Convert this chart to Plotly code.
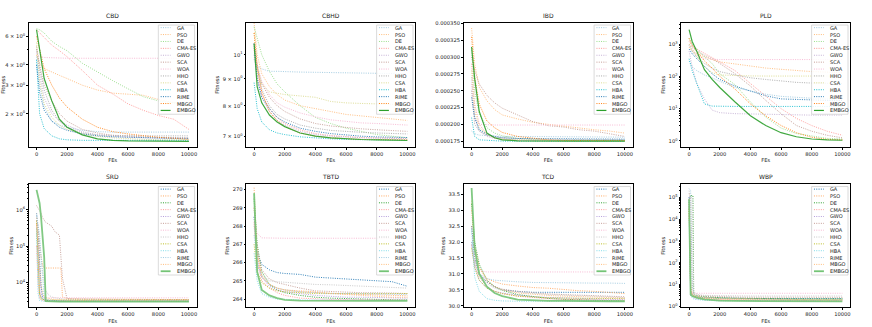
import plotly.graph_objects as go

ALGOS = ["GA", "PSO", "DE", "CMA-ES", "GWO", "SCA", "WOA", "HHO", "CSA", "HBA", "RIME", "MBGO", "EMBGO"]
PROBLEMS = ["CBD", "CBHD", "IBD", "PLD", "SRD", "TBTD", "TCD", "WBP"]

FES = [0, 200, 500, 1000, 1500, 2000, 3000, 4000, 5000, 6000, 7000, 8000, 9000, 10000]
FES_SRD = [0, 100, 200, 300, 400, 500, 600, 800, 1000, 1200, 1500, 1600, 1700, 2000, 3000, 5000, 10000]
FES_WBP = [0, 100, 200, 250, 300, 400, 600, 1000, 2000, 3000, 4000, 6000, 8000, 10000]

CBD = {
    "GA": [4.5, 3.0, 2.2, 1.8, 1.7, 1.65, 1.58, 1.55, 1.54, 1.54, 1.54, 1.54, 1.54, 1.54],
    "PSO": [4.6, 4.1, 3.8, 3.6, 3.45, 3.3, 3.0, 2.8, 2.68, 2.64, 2.6, 2.45, 2.35, 2.25],
    "DE": [6.7, 6.6, 6.3, 5.6, 5.2, 4.9, 4.1, 3.6, 3.2, 2.85, 2.55, 2.4, 2.33, 2.3],
    "CMA-ES": [6.6, 6.3, 5.9, 5.3, 4.9, 4.5, 3.7, 3.0, 2.65, 2.3, 2.1, 1.95, 1.85, 1.6],
    "GWO": [5.0, 3.5, 2.5, 2.0, 1.8, 1.7, 1.55, 1.48, 1.45, 1.43, 1.42, 1.41, 1.41, 1.40],
    "SCA": [5.2, 4.0, 3.0, 2.4, 2.0, 1.8, 1.6, 1.52, 1.47, 1.45, 1.44, 1.43, 1.43, 1.42],
    "WOA": [4.7, 4.5, 4.45, 4.42, 4.41, 4.4, 4.4, 4.4, 4.4, 4.4, 4.4, 4.4, 4.4, 4.4],
    "HHO": [5.0, 3.8, 2.8, 2.1, 1.8, 1.65, 1.52, 1.48, 1.47, 1.46, 1.46, 1.46, 1.46, 1.46],
    "CSA": [5.5, 3.2, 2.3, 1.9, 1.7, 1.6, 1.5, 1.45, 1.42, 1.40, 1.39, 1.38, 1.38, 1.38],
    "HBA": [4.3, 2.0, 1.62, 1.46, 1.40, 1.38, 1.37, 1.37, 1.37, 1.37, 1.37, 1.37, 1.37, 1.37],
    "RIME": [4.0, 2.7, 2.1, 1.8, 1.65, 1.58, 1.5, 1.46, 1.44, 1.43, 1.42, 1.42, 1.41, 1.41],
    "MBGO": [6.0, 5.0, 3.8, 3.0, 2.5, 2.2, 1.85, 1.65, 1.55, 1.5, 1.46, 1.43, 1.41, 1.39],
    "EMBGO": [6.6, 5.0, 3.3, 2.4, 1.85, 1.65, 1.48, 1.40, 1.37, 1.36, 1.355, 1.35, 1.35, 1.35],
}

CBHD = {
    "GA": [9.8, 9.5, 9.4, 9.3, 9.3, 9.28, 9.27, 9.26, 9.25, 9.24, 9.23, 9.22, 9.21, 9.2],
    "PSO": [11.5, 10.0, 9.2, 8.7, 8.4, 8.2, 8.0, 7.9, 7.8, 7.7, 7.65, 7.6, 7.55, 7.5],
    "DE": [11.3, 10.8, 10.0, 9.3, 8.8, 8.5, 8.0, 7.6, 7.4, 7.25, 7.15, 7.05, 7.0, 6.95],
    "CMA-ES": [10.2, 9.2, 8.4, 7.9, 7.6, 7.4, 7.2, 7.08, 7.02, 6.98, 6.96, 6.95, 6.94, 6.93],
    "GWO": [10.0, 9.0, 8.3, 7.8, 7.5, 7.35, 7.15, 7.05, 7.0, 6.97, 6.95, 6.94, 6.93, 6.93],
    "SCA": [10.5, 9.5, 8.8, 8.3, 8.0, 7.8, 7.55, 7.4, 7.32, 7.27, 7.23, 7.2, 7.18, 7.15],
    "WOA": [10.5, 9.6, 8.9, 8.4, 8.1, 7.95, 7.75, 7.62, 7.52, 7.46, 7.42, 7.4, 7.38, 7.35],
    "HHO": [10.3, 9.4, 8.6, 8.0, 7.7, 7.55, 7.35, 7.25, 7.18, 7.14, 7.12, 7.1, 7.08, 7.07],
    "CSA": [11.0, 9.5, 8.8, 8.5, 8.45, 8.4, 8.35, 8.3, 8.15, 8.1, 8.08, 8.06, 8.05, 8.05],
    "HBA": [8.85, 7.9, 7.45, 7.2, 7.1, 7.05, 6.98, 6.94, 6.92, 6.9, 6.89, 6.88, 6.88, 6.88],
    "RIME": [10.5, 9.0, 8.3, 7.9, 7.6, 7.45, 7.25, 7.15, 7.08, 7.03, 7.0, 6.98, 6.97, 6.96],
    "MBGO": [11.0, 9.5, 8.5, 7.8, 7.5, 7.3, 7.1, 7.0, 6.95, 6.92, 6.9, 6.9, 6.89, 6.89],
    "EMBGO": [10.5, 8.7, 8.1, 7.68, 7.45, 7.3, 7.1, 7.0, 6.95, 6.92, 6.9, 6.89, 6.88, 6.87],
}

IBD = {
    "GA": [1.90e-4, 1.86e-4, 1.84e-4, 1.83e-4, 1.82e-4, 1.82e-4, 1.82e-4, 1.82e-4, 1.815e-4, 1.815e-4, 1.81e-4, 1.81e-4, 1.81e-4, 1.81e-4],
    "PSO": [3.43e-4, 2.90e-4, 2.55e-4, 2.35e-4, 2.22e-4, 2.14e-4, 2.08e-4, 2.03e-4, 2.00e-4, 1.97e-4, 1.95e-4, 1.92e-4, 1.90e-4, 1.87e-4],
    "DE": [3.10e-4, 2.50e-4, 2.15e-4, 1.95e-4, 1.87e-4, 1.83e-4, 1.79e-4, 1.77e-4, 1.76e-4, 1.76e-4, 1.755e-4, 1.755e-4, 1.755e-4, 1.755e-4],
    "CMA-ES": [2.90e-4, 2.30e-4, 2.00e-4, 1.85e-4, 1.80e-4, 1.78e-4, 1.76e-4, 1.755e-4, 1.753e-4, 1.752e-4, 1.752e-4, 1.752e-4, 1.752e-4, 1.752e-4],
    "GWO": [2.70e-4, 2.10e-4, 1.90e-4, 1.82e-4, 1.79e-4, 1.78e-4, 1.77e-4, 1.765e-4, 1.76e-4, 1.76e-4, 1.76e-4, 1.76e-4, 1.76e-4, 1.76e-4],
    "SCA": [3.00e-4, 2.80e-4, 2.60e-4, 2.43e-4, 2.32e-4, 2.24e-4, 2.14e-4, 2.04e-4, 1.98e-4, 1.96e-4, 1.92e-4, 1.90e-4, 1.86e-4, 1.82e-4],
    "WOA": [2.60e-4, 2.10e-4, 2.00e-4, 1.99e-4, 1.99e-4, 1.99e-4, 1.99e-4, 1.99e-4, 1.99e-4, 1.99e-4, 1.99e-4, 1.99e-4, 1.99e-4, 1.99e-4],
    "HHO": [2.50e-4, 2.00e-4, 1.90e-4, 1.84e-4, 1.81e-4, 1.80e-4, 1.79e-4, 1.78e-4, 1.78e-4, 1.77e-4, 1.77e-4, 1.77e-4, 1.77e-4, 1.77e-4],
    "CSA": [2.80e-4, 2.20e-4, 1.95e-4, 1.85e-4, 1.80e-4, 1.78e-4, 1.77e-4, 1.76e-4, 1.76e-4, 1.76e-4, 1.76e-4, 1.76e-4, 1.76e-4, 1.76e-4],
    "HBA": [2.10e-4, 1.82e-4, 1.77e-4, 1.76e-4, 1.752e-4, 1.751e-4, 1.751e-4, 1.751e-4, 1.751e-4, 1.751e-4, 1.751e-4, 1.751e-4, 1.751e-4, 1.751e-4],
    "RIME": [2.40e-4, 2.10e-4, 1.92e-4, 1.85e-4, 1.82e-4, 1.80e-4, 1.79e-4, 1.79e-4, 1.78e-4, 1.78e-4, 1.78e-4, 1.78e-4, 1.78e-4, 1.78e-4],
    "MBGO": [3.30e-4, 2.70e-4, 2.30e-4, 2.05e-4, 1.95e-4, 1.88e-4, 1.82e-4, 1.79e-4, 1.77e-4, 1.76e-4, 1.76e-4, 1.76e-4, 1.76e-4, 1.76e-4],
    "EMBGO": [3.15e-4, 2.68e-4, 2.19e-4, 1.87e-4, 1.80e-4, 1.77e-4, 1.755e-4, 1.751e-4, 1.75e-4, 1.75e-4, 1.75e-4, 1.75e-4, 1.75e-4, 1.75e-4],
}

PLD = {
    "GA": [300, 200, 150, 110, 90, 70, 45, 35, 28, 24, 22, 21, 20, 20],
    "PSO": [800, 600, 500, 400, 330, 280, 240, 200, 180, 165, 150, 140, 135, 129],
    "DE": [1500, 1000, 700, 400, 250, 120, 55, 16, 5.5, 2.5, 1.7, 1.4, 1.2, 1.15],
    "CMA-ES": [1200, 900, 700, 500, 380, 280, 150, 60, 25, 10, 5, 3, 2, 1.5],
    "GWO": [600, 200, 60, 20, 9, 7.5, 7, 6.8, 6.6, 6.5, 6.4, 6.3, 6.3, 6.3],
    "SCA": [1000, 800, 600, 450, 350, 250, 120, 50, 18, 7, 3, 2, 1.5, 1.25],
    "WOA": [1000, 700, 450, 350, 335, 330, 330, 330, 330, 330, 330, 330, 330, 330],
    "HHO": [900, 600, 400, 250, 180, 140, 110, 90, 80, 72, 65, 62, 61, 60],
    "CSA": [1000, 700, 400, 200, 130, 110, 105, 103, 102, 102, 102, 102, 102, 102],
    "HBA": [350, 150, 60, 14, 12, 11.8, 11.7, 11.7, 11.7, 11.7, 11.7, 11.7, 11.7, 11.7],
    "RIME": [700, 500, 350, 200, 120, 80, 50, 35, 25, 20, 19, 18.5, 18, 18],
    "MBGO": [1500, 900, 600, 300, 180, 100, 40, 14, 6, 3, 1.8, 1.3, 1.12, 1.08],
    "EMBGO": [2800, 1200, 600, 160, 80, 45, 16, 6, 3, 1.8, 1.35, 1.15, 1.08, 1.05],
}

SRD = {
    "GA": [8e5, 3e5, 4e4, 8000, 4000, 3500, 3300, 3200, 3150, 3100, 3100, 3100, 3100, 3100, 3080, 3050, 3050],
    "PSO": [6e5, 2e5, 1e5, 5e4, 3e4, 2.5e4, 2.5e4, 2.5e4, 2.5e4, 2.5e4, 2.5e4, 2.5e4, 4000, 3600, 3500, 3450, 3400],
    "DE": [3e5, 3e4, 5000, 3800, 3500, 3300, 3200, 3150, 3100, 3080, 3070, 3060, 3060, 3050, 3040, 3030, 3030],
    "CMA-ES": [1e5, 1e4, 3600, 3300, 3200, 3150, 3120, 3100, 3080, 3070, 3060, 3060, 3055, 3050, 3050, 3050, 3050],
    "GWO": [5e5, 1e5, 2e4, 5000, 3500, 3300, 3250, 3200, 3180, 3170, 3160, 3160, 3160, 3150, 3150, 3150, 3150],
    "SCA": [1.3e6, 1.1e6, 9e5, 8e5, 6e5, 5e5, 4.5e5, 4e5, 3.5e5, 2.5e5, 2e5, 5e4, 1.3e4, 3600, 3500, 3450, 3400],
    "WOA": [4e5, 5e4, 6000, 4000, 3800, 3800, 3800, 3800, 3800, 3800, 3800, 3800, 3800, 3800, 3800, 3800, 3800],
    "HHO": [8e5, 3e5, 1e5, 4e4, 2e4, 1e4, 6000, 4500, 4000, 3800, 3600, 3550, 3500, 3400, 3300, 3250, 3200],
    "CSA": [5e5, 5e4, 5000, 3500, 3400, 3350, 3320, 3300, 3300, 3300, 3300, 3300, 3300, 3300, 3300, 3300, 3300],
    "HBA": [3e5, 5000, 3200, 3100, 3080, 3060, 3050, 3050, 3050, 3050, 3050, 3050, 3050, 3050, 3050, 3050, 3050],
    "RIME": [7e5, 4e5, 2e5, 5e4, 1e4, 4000, 3400, 3300, 3250, 3200, 3150, 3150, 3150, 3120, 3100, 3100, 3100],
    "MBGO": [4e5, 1e5, 3e4, 8000, 5000, 4000, 3800, 3600, 3500, 3400, 3300, 3300, 3300, 3250, 3200, 3150, 3100],
    "EMBGO": [3.5e6, 2.5e6, 1.5e6, 6e5, 1.5e5, 5e4, 3100, 3050, 3020, 3010, 3000, 3000, 3000, 2998, 2996, 2995, 2995],
}

TBTD = {
    "GA": [268.5, 266.5, 265.9, 265.6, 265.45, 265.4, 265.35, 265.2, 265.15, 265.1, 265.05, 265.0, 264.95, 264.7],
    "PSO": [270.1, 266.5, 265.2, 264.8, 264.6, 264.5, 264.4, 264.35, 264.3, 264.28, 264.25, 264.22, 264.2, 264.18],
    "DE": [269.5, 267.0, 265.5, 264.8, 264.5, 264.35, 264.2, 264.1, 264.05, 264.02, 264.0, 263.98, 263.96, 263.95],
    "CMA-ES": [268.2, 266.0, 265.0, 264.6, 264.35, 264.2, 264.05, 264.0, 263.98, 263.97, 263.96, 263.95, 263.95, 263.95],
    "GWO": [268.5, 266.2, 265.2, 264.7, 264.5, 264.4, 264.3, 264.2, 264.15, 264.1, 264.1, 264.08, 264.05, 264.05],
    "SCA": [269.0, 266.8, 265.6, 265.1, 264.9, 264.8, 264.6, 264.45, 264.4, 264.38, 264.35, 264.35, 264.33, 264.3],
    "WOA": [268.1, 267.6, 267.35, 267.33, 267.33, 267.33, 267.33, 267.33, 267.33, 267.33, 267.33, 267.33, 267.33, 267.33],
    "HHO": [268.0, 266.0, 265.3, 265.0, 264.95, 264.92, 264.85, 264.8, 264.78, 264.75, 264.72, 264.68, 264.64, 264.6],
    "CSA": [267.0, 265.5, 264.9, 264.6, 264.45, 264.4, 264.35, 264.3, 264.3, 264.3, 264.3, 264.3, 264.3, 264.3],
    "HBA": [266.5, 265.0, 264.3, 264.1, 264.0, 263.97, 263.95, 263.95, 263.94, 263.94, 263.94, 263.94, 263.94, 263.94],
    "RIME": [267.5, 266.0, 265.2, 264.8, 264.6, 264.5, 264.4, 264.35, 264.3, 264.3, 264.28, 264.27, 264.26, 264.25],
    "MBGO": [269.0, 266.5, 265.3, 264.8, 264.6, 264.5, 264.45, 264.4, 264.3, 264.25, 264.2, 264.15, 264.1, 264.1],
    "EMBGO": [269.8, 265.5, 264.5, 264.2, 264.05, 263.95, 263.91, 263.9, 263.9, 263.9, 263.9, 263.9, 263.9, 263.9],
}

TCD = {
    "GA": [32.5, 31.5, 31.0, 30.75, 30.6, 30.5, 30.45, 30.42, 30.42, 30.42, 30.42, 30.42, 30.42, 30.42],
    "PSO": [33.0, 31.8, 31.2, 30.85, 30.75, 30.68, 30.62, 30.57, 30.55, 30.5, 30.47, 30.45, 30.42, 30.38],
    "DE": [33.2, 32.0, 31.3, 30.8, 30.6, 30.48, 30.35, 30.28, 30.23, 30.2, 30.18, 30.17, 30.16, 30.15],
    "CMA-ES": [31.9, 31.3, 30.9, 30.6, 30.45, 30.38, 30.3, 30.25, 30.22, 30.2, 30.19, 30.18, 30.17, 30.17],
    "GWO": [32.0, 31.2, 30.8, 30.55, 30.45, 30.4, 30.33, 30.28, 30.26, 30.24, 30.23, 30.22, 30.2, 30.2],
    "SCA": [32.5, 31.5, 31.0, 30.75, 30.6, 30.52, 30.45, 30.4, 30.37, 30.35, 30.33, 30.32, 30.3, 30.28],
    "WOA": [32.0, 31.3, 31.1, 31.06, 31.06, 31.06, 31.06, 31.06, 31.06, 31.06, 31.06, 31.06, 31.06, 31.06],
    "HHO": [32.0, 31.4, 31.0, 30.7, 30.55, 30.48, 30.42, 30.38, 30.35, 30.33, 30.32, 30.3, 30.28, 30.25],
    "CSA": [31.8, 31.2, 30.8, 30.55, 30.45, 30.38, 30.3, 30.27, 30.25, 30.24, 30.23, 30.22, 30.22, 30.22],
    "HBA": [32.4, 30.9, 30.45, 30.22, 30.17, 30.15, 30.14, 30.14, 30.14, 30.14, 30.14, 30.14, 30.14, 30.14],
    "RIME": [32.0, 31.3, 31.0, 30.85, 30.8, 30.78, 30.75, 30.73, 30.72, 30.72, 30.72, 30.71, 30.71, 30.7],
    "MBGO": [33.3, 31.9, 31.2, 30.8, 30.6, 30.5, 30.4, 30.35, 30.32, 30.3, 30.28, 30.26, 30.25, 30.24],
    "EMBGO": [33.7, 31.8, 31.0, 30.6, 30.4, 30.3, 30.19, 30.16, 30.15, 30.15, 30.14, 30.14, 30.14, 30.14],
}

WBP = {
    "GA": [1e5, 5, 3.5, 3.2, 3.0, 2.8, 2.6, 2.5, 2.4, 2.35, 2.3, 2.3, 2.3, 2.3],
    "PSO": [3e4, 10, 4, 3.5, 3.2, 3.0, 2.8, 2.6, 2.4, 2.3, 2.2, 2.1, 2.0, 2.0],
    "DE": [8e4, 1.2e5, 1.2e5, 1.2e5, 4, 3.2, 3.0, 2.8, 2.5, 2.4, 2.3, 2.25, 2.2, 2.2],
    "CMA-ES": [5e4, 4, 3, 2.8, 2.6, 2.5, 2.4, 2.2, 2.0, 1.95, 1.9, 1.85, 1.82, 1.8],
    "GWO": [1e5, 6, 3, 2.7, 2.5, 2.3, 2.2, 2.0, 1.9, 1.85, 1.82, 1.8, 1.8, 1.8],
    "SCA": [1.5e5, 8e4, 10, 5, 4, 3.5, 3.2, 3.0, 2.8, 2.7, 2.65, 2.6, 2.6, 2.6],
    "WOA": [5e4, 5, 4.2, 4.1, 4.0, 4.0, 4.0, 4.0, 4.0, 4.0, 4.0, 4.0, 4.0, 4.0],
    "HHO": [2e5, 1e5, 1e5, 8, 5, 4, 3.5, 3.2, 3.1, 3.05, 3.0, 3.0, 3.0, 3.0],
    "CSA": [3e4, 5, 3.5, 3.2, 3.0, 2.8, 2.6, 2.4, 2.3, 2.2, 2.15, 2.1, 2.1, 2.1],
    "HBA": [1e4, 3, 2.5, 2.3, 2.2, 2.1, 2.0, 1.9, 1.8, 1.78, 1.76, 1.75, 1.75, 1.75],
    "RIME": [2.5e5, 2e5, 10, 4, 3.5, 3.0, 2.8, 2.5, 2.3, 2.2, 2.1, 2.05, 2.0, 2.0],
    "MBGO": [8e4, 6, 3.5, 3.2, 3.0, 2.7, 2.5, 2.3, 2.1, 2.0, 1.95, 1.9, 1.88, 1.85],
    "EMBGO": [8e4, 3.5, 3.0, 2.9, 2.8, 2.6, 2.4, 2.1, 1.85, 1.78, 1.75, 1.72, 1.70, 1.70],
}

DATA = [(CBD, FES), (CBHD, FES), (IBD, FES), (PLD, FES),
        (SRD, FES_SRD), (TBTD, FES), (TCD, FES), (WBP, FES_WBP)]

ROW1_COLORS = ["#9ecae1", "#ffbb78", "#98df8a", "#ff9896", "#c5b0d5", "#c49c94", "#f7b6d2",
               "#a8a8a8", "#dbdb8d", "#17becf", "#1f77b4", "#ff7f0e", "#2ca02c"]
ROW2_COLORS = ["#1f77b4", "#ffa860", "#2ca02c", "#ff9896", "#b39ddb", "#c49c94", "#f7b6d2",
               "#c7c7c7", "#bcbd22", "#7fdbe8", "#9ecae1", "#ffbb78", "#74c476"]

W, H = 872, 327
COLS = [(28, 196), (246, 415), (464, 633), (682, 851)]
ROWS = [(20, 146), (184, 309)]
FONT = "DejaVu Sans"


def sup(n):
    return "10<sup>%d</sup>" % n


YAX = [
    dict(type="log", range=[0.097, 0.863], tickvals=[2, 3, 4, 6],
         ticktext=["2 × " + sup(0), "3 × " + sup(0), "4 × " + sup(0), "6 × " + sup(0)],
         minor=[5]),
    dict(type="log", range=[0.825, 1.061], tickvals=[7, 8, 9, 10],
         ticktext=["7 × " + sup(0), "8 × " + sup(0), "9 × " + sup(0), sup(1)], minor=[]),
    dict(type="linear", range=[0.0001667, 0.000351],
         tickvals=[0.000175, 0.0002, 0.000225, 0.00025, 0.000275, 0.0003, 0.000325, 0.00035],
         ticktext=["0.000175", "0.000200", "0.000225", "0.000250", "0.000275", "0.000300", "0.000325", "0.000350"],
         minor=None),
    dict(type="log", range=[-0.18, 3.66], tickvals=[1, 10, 100, 1000],
         ticktext=[sup(0), sup(1), sup(2), sup(3)],
         minor=[m * 10 ** e for e in range(0, 4) for m in range(2, 10)]),
    dict(type="log", range=[3.32, 6.70], tickvals=[1e4, 1e5, 1e6],
         ticktext=[sup(4), sup(5), sup(6)],
         minor=[m * 10 ** e for e in range(3, 7) for m in range(2, 10)]),
    dict(type="linear", range=[263.55, 270.29], tickvals=[264, 265, 266, 267, 268, 269, 270],
         ticktext=["264", "265", "266", "267", "268", "269", "270"], minor=None),
    dict(type="linear", range=[29.95, 33.82], tickvals=[30, 30.5, 31, 31.5, 32, 32.5, 33, 33.5],
         ticktext=["30.0", "30.5", "31.0", "31.5", "32.0", "32.5", "33.0", "33.5"], minor=None),
    dict(type="log", range=[-0.04, 5.6], tickvals=[1, 10, 100, 1e3, 1e4, 1e5],
         ticktext=[sup(0), sup(1), sup(2), sup(3), sup(4), sup(5)],
         minor=[m * 10 ** e for e in range(0, 6) for m in range(2, 10)]),
]

fig = go.Figure()
layout = {}
shapes = []
annots = []

for k, name in enumerate(PROBLEMS):
    r, c = divmod(k, 4)
    s = "" if k == 0 else str(k + 1)
    xd = [COLS[c][0] / W, COLS[c][1] / W]
    yd = [1 - ROWS[r][1] / H, 1 - ROWS[r][0] / H]
    colors = ROW1_COLORS if r == 0 else ROW2_COLORS
    series, fes = DATA[k]

    for i, algo in enumerate(ALGOS):
        if algo == "EMBGO":
            line = dict(color=colors[i], width=1.2 if r == 0 else 1.8)
        else:
            line = dict(color=colors[i], width=1.0, dash="1px,1.3px")
        fig.add_trace(go.Scatter(x=fes, y=series[algo], mode="lines", line=line,
                                 opacity=0.9, showlegend=False, hoverinfo="skip",
                                 xaxis="x" + s, yaxis="y" + s))

    layout["xaxis" + s] = dict(
        domain=xd, anchor="y" + s, range=[-500, 10500],
        tickvals=[0, 2000, 4000, 6000, 8000, 10000],
        ticktext=["0", "2000", "4000", "6000", "8000", "10000"],
        ticks="outside", ticklen=2, tickwidth=0.6, tickcolor="black",
        showline=True, mirror=True, linecolor="black", linewidth=0.7,
        showgrid=False, zeroline=False,
        tickfont=dict(family=FONT, size=5.2, color="#222"),
        title=dict(text="FEs", font=dict(family=FONT, size=5.2, color="#222"), standoff=2),
    )
    ya = YAX[k]
    ycfg = dict(
        domain=yd, anchor="x" + s, type=ya["type"], range=ya["range"],
        tickmode="array", tickvals=ya["tickvals"], ticktext=ya["ticktext"],
        ticks="outside", ticklen=2, tickwidth=0.6, tickcolor="black",
        showline=True, mirror=True, linecolor="black", linewidth=0.7,
        showgrid=False, zeroline=False,
        tickfont=dict(family=FONT, size=5.2, color="#222"),
    )
    if k != 2:
        ycfg["title"] = dict(text="Fitness", font=dict(family=FONT, size=5.2, color="#222"), standoff=2)
    if ya["minor"]:
        ycfg["minor"] = dict(tickmode="array", tickvals=ya["minor"], ticks="outside",
                             ticklen=1.2, tickwidth=0.5, tickcolor="black", showgrid=False)
    layout["yaxis" + s] = ycfg

    # subplot title
    annots.append(dict(text=name, x=(xd[0] + xd[1]) / 2, y=yd[1] + 2 / H, xref="paper", yref="paper",
                       xanchor="center", yanchor="bottom", showarrow=False,
                       font=dict(family=FONT, size=6, color="#222")))

    # legend box, drawn by hand so that 13 entries fit inside each small panel
    xr, yr = "x" + s + " domain", "y" + s + " domain"
    shapes.append(dict(type="rect", xref=xr, yref=yr, x0=0.772, x1=0.988, y0=0.262, y1=0.981,
                       line=dict(color="#cccccc", width=0.7), fillcolor="rgba(255,255,255,0.85)",
                       layer="above"))
    for i, algo in enumerate(ALGOS):
        yy = 0.960 - i * 0.0556
        if algo == "EMBGO":
            ln = dict(color=colors[i], width=1.2 if r == 0 else 1.8)
        else:
            ln = dict(color=colors[i], width=1.0, dash="1px,1.3px")
        shapes.append(dict(type="line", xref=xr, yref=yr, x0=0.786, x1=0.845, y0=yy, y1=yy,
                           line=ln, layer="above"))
        annots.append(dict(text=algo, xref=xr, yref=yr, x=0.869, y=yy, xanchor="left",
                           yanchor="middle", showarrow=False,
                           font=dict(family=FONT, size=5, color="#222")))

fig.update_layout(
    width=W, height=H,
    margin=dict(l=0, r=0, t=0, b=0),
    paper_bgcolor="white", plot_bgcolor="white",
    shapes=shapes, annotations=annots,
    showlegend=False,
    **layout,
)

# the browser's default body margin would push the fixed-size figure 8px off the page
fig.write_html("out.html", config={"displayModeBar": False},
               post_script="document.body.style.margin='0';")
